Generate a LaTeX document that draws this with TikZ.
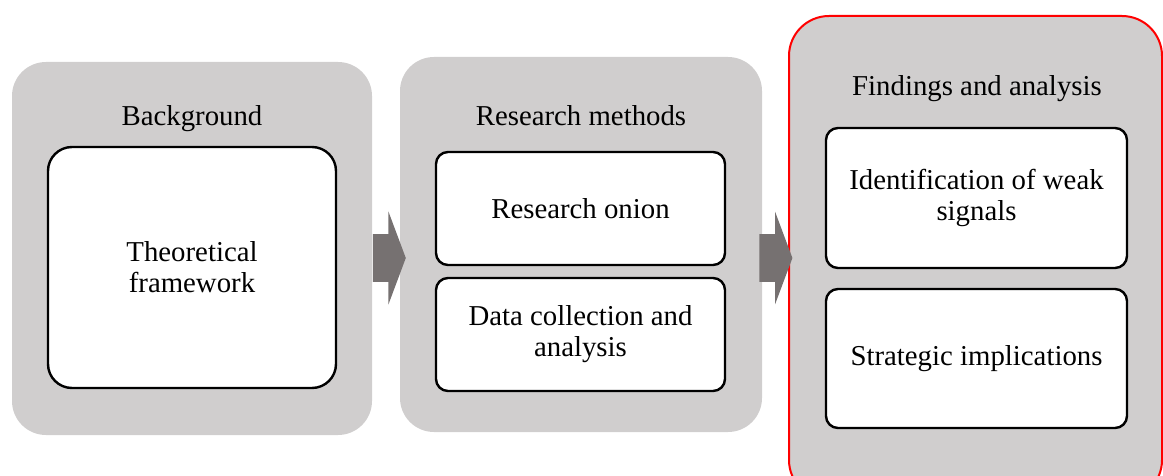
\documentclass[tikz,border=0pt]{standalone}
\usepackage{fontspec}
\setmainfont{Liberation Serif}
\usetikzlibrary{shapes.arrows}
\definecolor{panelgray}{RGB}{208,206,206}
\definecolor{arrowgray}{RGB}{118,113,113}
\definecolor{focusred}{RGB}{255,0,0}

\begin{document}
\begin{tikzpicture}[x=0.5pt, y=-0.5pt,
  panel/.style={fill=panelgray, rounded corners=17pt, inner sep=0pt},
  box/.style={draw, line width=1.2pt, fill=white, rounded corners=6pt, align=center,
    font=\fontsize{14.4}{15.5}\selectfont},
  title/.style={font=\fontsize{14.4}{15.5}\selectfont},
  blockarr/.style={single arrow, fill=arrowgray, inner xsep=0pt, inner ysep=11.75pt,
    single arrow head extend=11.25pt, single arrow tip angle=139,
    minimum height=16.5pt, anchor=tail},
]
\clip (0,0) rectangle (1163,476);
% the three stages
\node[panel, minimum width=180pt, minimum height=186.5pt] (bgpanel) at (192,248.5) {};
\node[panel, minimum width=181pt, minimum height=187.5pt] (rmpanel) at (581,244.5) {};
\node[panel, draw=focusred, line width=1pt, rounded corners=20pt,
  minimum width=186.5pt, minimum height=242pt] (fapanel) at (975.5,258) {};
\node[title] (bgtitle) at (192,119) {Background};
\node[title] (rmtitle) at (581,116) {Research methods};
\node[title] (fatitle) at (977,89) {Findings and analysis};
% contents
\node[box, rounded corners=12pt, minimum width=144pt, minimum height=120.5pt] (theory)
  at (192,267.5) {Theoretical\\framework};
\node[box, minimum width=144.5pt, minimum height=56.5pt] (onion)
  at (580.5,208.5) {Research onion};
\node[box, minimum width=144.5pt, minimum height=56.5pt] (datacoll)
  at (580.5,334.5) {Data collection and\\analysis};
\node[box, minimum width=150.5pt, minimum height=70pt] (weaksig)
  at (976.5,198) {Identification of weak\\signals};
\node[box, minimum width=150.5pt, minimum height=69.5pt] (strategic)
  at (976.5,358.5) {Strategic implications};
% block arrows between stages
\node[blockarr] (ar1) at (bgpanel.east |- 0,258) {};
\node[blockarr] (ar2) at (759,258) {};
\end{tikzpicture}
\end{document}
